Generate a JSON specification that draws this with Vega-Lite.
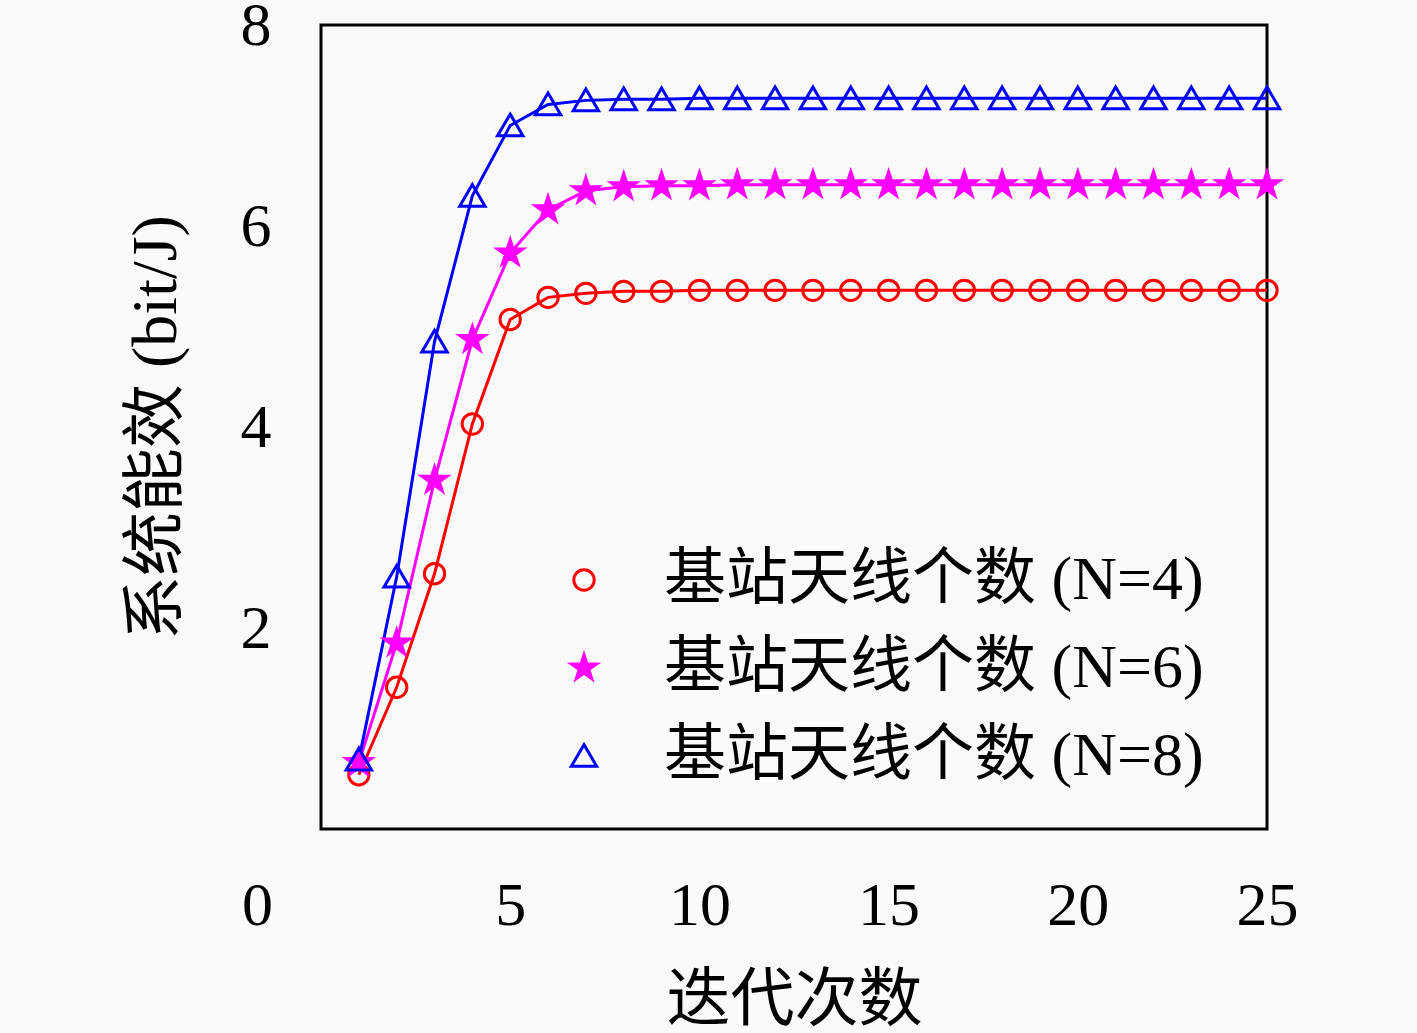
{
  "$schema": "https://vega.github.io/schema/vega-lite/v6.json",
  "width": 946,
  "height": 804,
  "autosize": {"type": "none"},
  "padding": {"left": 321, "top": 25, "right": 150, "bottom": 204},
  "background": "#fafafa",
  "config": {
    "view": {"stroke": "black", "strokeWidth": 3},
    "font": "Liberation Serif, Noto Sans CJK SC",
    "axis": {
      "domain": false,
      "grid": false,
      "ticks": false,
      "labelFlush": false,
      "labelFont": "Liberation Serif, Noto Sans CJK SC",
      "titleFont": "Liberation Serif, Noto Sans CJK SC",
      "labelFontSize": 62,
      "titleFontSize": 64,
      "titleFontWeight": "normal",
      "labelColor": "black",
      "titleColor": "black"
    },
    "legend": {
      "labelFont": "Liberation Serif, Noto Sans CJK SC",
      "labelFontSize": 62,
      "labelColor": "black",
      "labelOffset": 49,
      "labelLimit": 800,
      "symbolSize": 700,
      "symbolStrokeWidth": 3,
      "rowPadding": 26
    }
  },
  "data": {
    "values": [
      {"x": 1, "y": 0.54, "s": "基站天线个数 (N=4)"},
      {"x": 2, "y": 1.41, "s": "基站天线个数 (N=4)"},
      {"x": 3, "y": 2.54, "s": "基站天线个数 (N=4)"},
      {"x": 4, "y": 4.03, "s": "基站天线个数 (N=4)"},
      {"x": 5, "y": 5.07, "s": "基站天线个数 (N=4)"},
      {"x": 6, "y": 5.29, "s": "基站天线个数 (N=4)"},
      {"x": 7, "y": 5.33, "s": "基站天线个数 (N=4)"},
      {"x": 8, "y": 5.35, "s": "基站天线个数 (N=4)"},
      {"x": 9, "y": 5.35, "s": "基站天线个数 (N=4)"},
      {"x": 10, "y": 5.36, "s": "基站天线个数 (N=4)"},
      {"x": 11, "y": 5.36, "s": "基站天线个数 (N=4)"},
      {"x": 12, "y": 5.36, "s": "基站天线个数 (N=4)"},
      {"x": 13, "y": 5.36, "s": "基站天线个数 (N=4)"},
      {"x": 14, "y": 5.36, "s": "基站天线个数 (N=4)"},
      {"x": 15, "y": 5.36, "s": "基站天线个数 (N=4)"},
      {"x": 16, "y": 5.36, "s": "基站天线个数 (N=4)"},
      {"x": 17, "y": 5.36, "s": "基站天线个数 (N=4)"},
      {"x": 18, "y": 5.36, "s": "基站天线个数 (N=4)"},
      {"x": 19, "y": 5.36, "s": "基站天线个数 (N=4)"},
      {"x": 20, "y": 5.36, "s": "基站天线个数 (N=4)"},
      {"x": 21, "y": 5.36, "s": "基站天线个数 (N=4)"},
      {"x": 22, "y": 5.36, "s": "基站天线个数 (N=4)"},
      {"x": 23, "y": 5.36, "s": "基站天线个数 (N=4)"},
      {"x": 24, "y": 5.36, "s": "基站天线个数 (N=4)"},
      {"x": 25, "y": 5.36, "s": "基站天线个数 (N=4)"},
      {"x": 1, "y": 0.66, "s": "基站天线个数 (N=6)"},
      {"x": 2, "y": 1.85, "s": "基站天线个数 (N=6)"},
      {"x": 3, "y": 3.47, "s": "基站天线个数 (N=6)"},
      {"x": 4, "y": 4.87, "s": "基站天线个数 (N=6)"},
      {"x": 5, "y": 5.73, "s": "基站天线个数 (N=6)"},
      {"x": 6, "y": 6.16, "s": "基站天线个数 (N=6)"},
      {"x": 7, "y": 6.35, "s": "基站天线个数 (N=6)"},
      {"x": 8, "y": 6.39, "s": "基站天线个数 (N=6)"},
      {"x": 9, "y": 6.40, "s": "基站天线个数 (N=6)"},
      {"x": 10, "y": 6.40, "s": "基站天线个数 (N=6)"},
      {"x": 11, "y": 6.41, "s": "基站天线个数 (N=6)"},
      {"x": 12, "y": 6.41, "s": "基站天线个数 (N=6)"},
      {"x": 13, "y": 6.41, "s": "基站天线个数 (N=6)"},
      {"x": 14, "y": 6.41, "s": "基站天线个数 (N=6)"},
      {"x": 15, "y": 6.41, "s": "基站天线个数 (N=6)"},
      {"x": 16, "y": 6.41, "s": "基站天线个数 (N=6)"},
      {"x": 17, "y": 6.41, "s": "基站天线个数 (N=6)"},
      {"x": 18, "y": 6.41, "s": "基站天线个数 (N=6)"},
      {"x": 19, "y": 6.41, "s": "基站天线个数 (N=6)"},
      {"x": 20, "y": 6.41, "s": "基站天线个数 (N=6)"},
      {"x": 21, "y": 6.41, "s": "基站天线个数 (N=6)"},
      {"x": 22, "y": 6.41, "s": "基站天线个数 (N=6)"},
      {"x": 23, "y": 6.41, "s": "基站天线个数 (N=6)"},
      {"x": 24, "y": 6.41, "s": "基站天线个数 (N=6)"},
      {"x": 25, "y": 6.41, "s": "基站天线个数 (N=6)"},
      {"x": 1, "y": 0.69, "s": "基站天线个数 (N=8)"},
      {"x": 2, "y": 2.51, "s": "基站天线个数 (N=8)"},
      {"x": 3, "y": 4.85, "s": "基站天线个数 (N=8)"},
      {"x": 4, "y": 6.30, "s": "基站天线个数 (N=8)"},
      {"x": 5, "y": 7.00, "s": "基站天线个数 (N=8)"},
      {"x": 6, "y": 7.21, "s": "基站天线个数 (N=8)"},
      {"x": 7, "y": 7.25, "s": "基站天线个数 (N=8)"},
      {"x": 8, "y": 7.26, "s": "基站天线个数 (N=8)"},
      {"x": 9, "y": 7.26, "s": "基站天线个数 (N=8)"},
      {"x": 10, "y": 7.27, "s": "基站天线个数 (N=8)"},
      {"x": 11, "y": 7.27, "s": "基站天线个数 (N=8)"},
      {"x": 12, "y": 7.27, "s": "基站天线个数 (N=8)"},
      {"x": 13, "y": 7.27, "s": "基站天线个数 (N=8)"},
      {"x": 14, "y": 7.27, "s": "基站天线个数 (N=8)"},
      {"x": 15, "y": 7.27, "s": "基站天线个数 (N=8)"},
      {"x": 16, "y": 7.27, "s": "基站天线个数 (N=8)"},
      {"x": 17, "y": 7.27, "s": "基站天线个数 (N=8)"},
      {"x": 18, "y": 7.27, "s": "基站天线个数 (N=8)"},
      {"x": 19, "y": 7.27, "s": "基站天线个数 (N=8)"},
      {"x": 20, "y": 7.27, "s": "基站天线个数 (N=8)"},
      {"x": 21, "y": 7.27, "s": "基站天线个数 (N=8)"},
      {"x": 22, "y": 7.27, "s": "基站天线个数 (N=8)"},
      {"x": 23, "y": 7.27, "s": "基站天线个数 (N=8)"},
      {"x": 24, "y": 7.27, "s": "基站天线个数 (N=8)"},
      {"x": 25, "y": 7.27, "s": "基站天线个数 (N=8)"}
    ]
  },
  "encoding": {
    "x": {
      "field": "x", "type": "quantitative",
      "scale": {"domain": [0, 25], "nice": false, "zero": false},
      "axis": {
        "values": [0, 5, 10, 15, 20, 25],
        "title": "迭代次数",
        "labelPadding": 46,
        "titlePadding": 32,
        "labelOffset": {"condition": {"test": "datum.value === 0", "value": -64}, "value": 0}
      }
    },
    "y": {
      "field": "y", "type": "quantitative",
      "scale": {"domain": [0, 8], "nice": false},
      "axis": {
        "values": [2, 4, 6, 8],
        "title": "系统能效 (bit/J)",
        "labelPadding": 50,
        "titlePadding": 52
      }
    }
  },
  "layer": [
    {
      "mark": {"type": "line", "strokeWidth": 3},
      "encoding": {
        "color": {
          "field": "s", "type": "nominal",
          "scale": {"domain": ["基站天线个数 (N=4)", "基站天线个数 (N=6)", "基站天线个数 (N=8)"], "range": ["#ff0000", "#ff00ff", "#0000ff"]},
          "legend": {"title": null, "orient": "none", "legendX": 232, "legendY": 524}
        }
      }
    },
    {
      "mark": {"type": "point", "strokeWidth": 3, "opacity": 1, "size": 700},
      "encoding": {
        "stroke": {
          "field": "s", "type": "nominal",
          "scale": {"domain": ["基站天线个数 (N=4)", "基站天线个数 (N=6)", "基站天线个数 (N=8)"], "range": ["#ff0000", "#ff00ff", "#0000ff"]},
          "legend": {"title": null, "orient": "none", "legendX": 232, "legendY": 524}
        },
        "fill": {
          "field": "s", "type": "nominal",
          "scale": {"domain": ["基站天线个数 (N=4)", "基站天线个数 (N=6)", "基站天线个数 (N=8)"], "range": ["transparent", "#ff00ff", "transparent"]},
          "legend": {"title": null, "orient": "none", "legendX": 232, "legendY": 524}
        },
        "shape": {
          "field": "s", "type": "nominal",
          "scale": {
            "domain": ["基站天线个数 (N=4)", "基站天线个数 (N=6)", "基站天线个数 (N=8)"],
            "range": [
              "M0.77,0A0.77,0.77,0,1,1,-0.77,0A0.77,0.77,0,1,1,0.77,0Z",
              "M0,-1L0.225,-0.309L0.951,-0.309L0.363,0.118L0.588,0.809L0,0.382L-0.588,0.809L-0.363,0.118L-0.951,-0.309L-0.225,-0.309Z",
              "M0,-0.86L0.96,0.78L-0.96,0.78Z"
            ]
          },
          "legend": {"title": null, "orient": "none", "legendX": 232, "legendY": 524}
        }
      }
    }
  ]
}
